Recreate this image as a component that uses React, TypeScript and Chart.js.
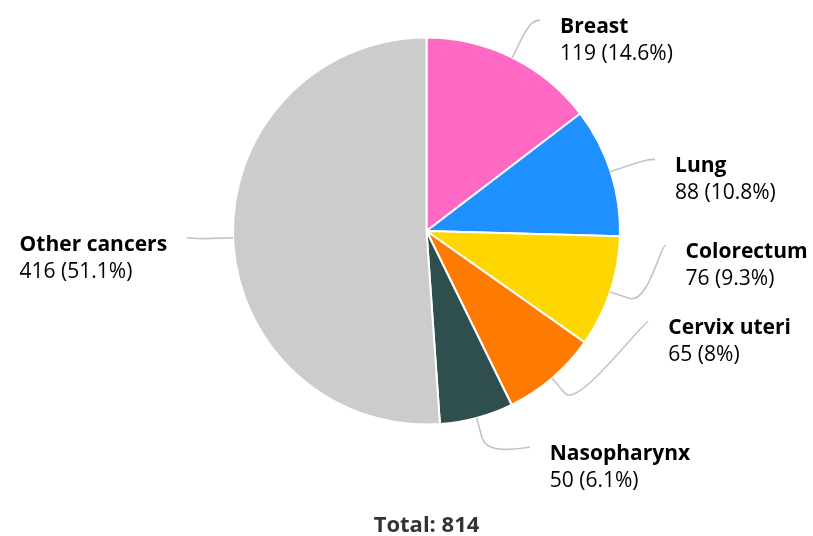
import React, { useEffect, useRef } from "react";
import { Chart, registerables } from "chart.js";

Chart.register(...registerables);

const categories = ["Breast", "Lung", "Colorectum", "Cervix uteri", "Nasopharynx", "Other cancers"];
const cases = [119, 88, 76, 65, 50, 416];
const percentLabels = ["14.6%", "10.8%", "9.3%", "8%", "6.1%", "51.1%"];
const totalCases = 814;
const sliceColors = ["#FF69C4", "#1E90FF", "#FFD700", "#FF7A00", "#2F4F4F", "#CCCCCC"];

const FONT = "'Open Sans', 'Noto Sans', sans-serif";

const pieLabelPlugin = {
  id: "pieLabels",
  afterDatasetsDraw(chart: any, _args: any, opts: any) {
    const ctx: CanvasRenderingContext2D = chart.ctx;
    const meta = chart.getDatasetMeta(0);
    let cx = 0;
    meta.data.forEach((arc: any, i: number) => {
      const p = arc.getProps(["x", "y", "startAngle", "endAngle", "outerRadius"], true);
      cx = p.x;
      const mid = (p.startAngle + p.endAngle) / 2;
      const cos = Math.cos(mid);
      const sin = Math.sin(mid);
      const tx = p.x + cos * p.outerRadius;
      const ty = p.y + sin * p.outerRadius;
      const bx = p.x + cos * (p.outerRadius + opts.breakOffset);
      const by = p.y + sin * (p.outerRadius + opts.breakOffset);
      const la = mid + ((opts.angleShift[i] || 0) * Math.PI) / 180;
      const lx = p.x + Math.cos(la) * (p.outerRadius + opts.labelDistance);
      const ly = p.y + Math.sin(la) * (p.outerRadius + opts.labelDistance);
      const right = Math.cos(la) >= 0;

      ctx.save();
      ctx.strokeStyle = "#c4c4c4";
      ctx.lineWidth = 1.6;
      ctx.beginPath();
      ctx.moveTo(lx, ly);
      ctx.bezierCurveTo(lx + (right ? -5 : 5), ly, 2 * bx - tx, 2 * by - ty, bx, by);
      ctx.lineTo(tx, ty);
      ctx.stroke();

      const name = categories[i];
      const value = `${cases[i]} (${percentLabels[i]})`;
      ctx.fillStyle = "#000";
      ctx.textBaseline = "alphabetic";
      ctx.textAlign = "left";
      ctx.font = `bold 21px ${FONT}`;
      const w1 = ctx.measureText(name).width;
      ctx.font = `21px ${FONT}`;
      const w2 = ctx.measureText(value).width;
      const w = Math.max(w1, w2);
      const textX = right ? lx + 20 : lx - 20 - w;
      ctx.font = `bold 21px ${FONT}`;
      ctx.fillText(name, textX, ly + 13);
      ctx.font = `21px ${FONT}`;
      ctx.fillText(value, textX, ly + 40);
      ctx.restore();
    });

    ctx.save();
    ctx.fillStyle = "#333333";
    ctx.font = `bold 22px ${FONT}`;
    ctx.textAlign = "center";
    ctx.textBaseline = "alphabetic";
    ctx.fillText(`Total: ${totalCases}`, cx, 532);
    ctx.restore();
  },
};

export default function App() {
  const ref = useRef<HTMLCanvasElement | null>(null);

  useEffect(() => {
    if (!ref.current) return;
    const chart = new Chart(ref.current, {
      type: "pie",
      data: {
        labels: categories,
        datasets: [
          {
            data: cases,
            backgroundColor: sliceColors,
            borderColor: "#ffffff",
            borderWidth: 2,
            hoverOffset: 0,
          },
        ],
      },
      options: {
        animation: false,
        responsive: true,
        maintainAspectRatio: false,
        layout: { padding: { top: 36, bottom: 110, left: 232, right: 192 } },
        plugins: {
          legend: { display: false },
          tooltip: { enabled: false },
          title: { display: false },
          pieLabels: {
            breakOffset: 20,
            labelDistance: 46,
            angleShift: [2, 0.5, -15, -27.4, -10.5, 0.4],
          },
        } as any,
      },
      plugins: [pieLabelPlugin],
    });
    return () => chart.destroy();
  }, []);

  return (
    <div style={{ position: "absolute", left: 0, top: 0, width: 813, height: 536, background: "#fff" }}>
      <canvas ref={ref} />
    </div>
  );
}
